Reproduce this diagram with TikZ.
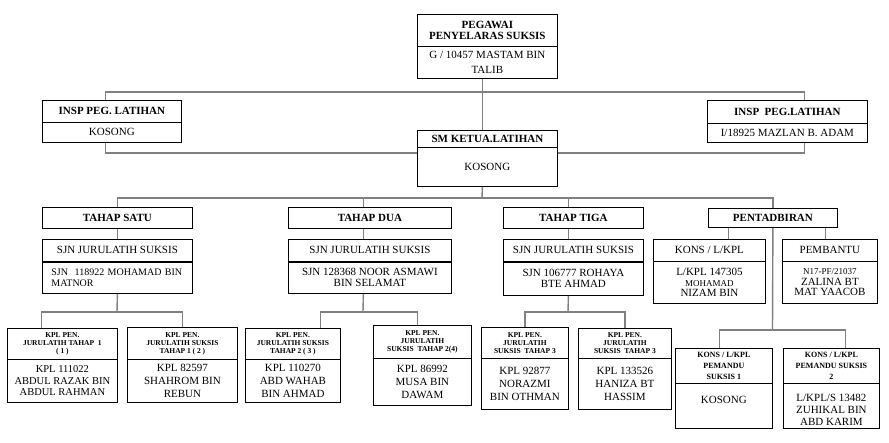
\documentclass[tikz,border=0pt]{standalone}
\usepackage{fontspec}
\setmainfont{Liberation Serif}
\usepackage{tikz}
\definecolor{lnkgray}{RGB}{128,128,128}

\begin{document}
\begin{tikzpicture}[x=1pt,y=-1pt,
	orgbox/.style={draw,line width=0.8pt,inner sep=0pt,anchor=north west,align=center},
	hd/.style={orgbox,font=\fontsize{11}{11.5}\selectfont\bfseries},
	bd/.style={orgbox,font=\fontsize{11}{13}\selectfont},
	sm/.style={orgbox,font=\fontsize{7.5}{8}\selectfont\bfseries},
	lnk/.style={draw=lnkgray,line width=1.4pt}]
	\useasboundingbox (0,0) rectangle (889,442);
	
	% top
	\node (toph) [hd,minimum width=140pt,minimum height=32pt] at (417,14) {PEGAWAI\\PENYELARAS SUKSIS};
	\node (topb) [bd,font=\fontsize{11}{15}\selectfont,minimum width=140pt,minimum height=32pt] at (417,46) {G / 10457 MASTAM BIN\\TALIB};
	
	% insp
	\node (inslh) [hd,minimum width=139pt,minimum height=22pt] at (42,100) {INSP PEG. LATIHAN};
	\node (inslb) [bd,minimum width=139pt,minimum height=20pt] at (42,122) {KOSONG};
	\node (insrh) [hd,minimum width=160pt,minimum height=23pt] at (707,100) {INSP\ \ PEG.LATIHAN};
	\node (insrb) [bd,minimum width=160pt,minimum height=19pt] at (707,123) {I/18925 MAZLAN B. ADAM};
	
	% ketua
	\node (ketuah) [hd,minimum width=140pt,minimum height=17pt] at (417,130) {SM KETUA.LATIHAN};
	\node (ketuab) [bd,minimum width=140pt,minimum height=39pt] at (417,147) {KOSONG};
	
	% tahap
	\node (t1) [hd,minimum width=150pt,minimum height=21pt] at (42,207) {TAHAP SATU};
	\node (t2) [hd,minimum width=163pt,minimum height=21pt] at (288,207) {TAHAP DUA};
	\node (t3) [hd,minimum width=140pt,minimum height=21pt] at (503,207) {TAHAP TIGA};
	\node (pent) [hd,minimum width=129pt,minimum height=19pt] at (708,208) {PENTADBIRAN};
	
	% sjn
	\node (sjn1h) [bd,minimum width=150pt,minimum height=22pt] at (42,239) {SJN JURULATIH SUKSIS};
	\node (sjn1b) [bd,font=\fontsize{10}{11}\selectfont,align=left,text width=132pt,minimum width=150pt,minimum height=32pt] at (42,261) {SJN\ \ 118922 MOHAMAD BIN\\MATNOR};
	\node (sjn2h) [bd,minimum width=163pt,minimum height=22pt] at (288,239) {SJN JURULATIH SUKSIS};
	\node (sjn2b) [bd,font=\fontsize{11}{11.5}\selectfont,minimum width=163pt,minimum height=32pt] at (288,261) {SJN 128368 NOOR ASMAWI\\BIN SELAMAT};
	\node (sjn3h) [bd,minimum width=140pt,minimum height=22pt] at (503,239) {SJN JURULATIH SUKSIS};
	\node (sjn3b) [bd,font=\fontsize{11}{11.5}\selectfont,minimum width=140pt,minimum height=34pt] at (503,261) {SJN 106777 ROHAYA\\BTE AHMAD};
	\foreach \n in {sjn1h,sjn2h,sjn3h}
	\draw [line width=1.6pt] (\n.south west) -- (\n.south east);
	
	% pentadbiran
	\node (konsh) [bd,minimum width=112pt,minimum height=22pt] at (653,239) {KONS / L/KPL};
	\node (konsb) [bd,font=\fontsize{11}{10.5}\selectfont,minimum width=112pt,minimum height=42pt] at (653,261) {L/KPL 147305\\{\fontsize{9}{10}\selectfont MOHAMAD}\\NIZAM BIN};
	\node (pembh) [bd,minimum width=95pt,minimum height=22pt] at (782,239) {PEMBANTU};
	\node (pembb) [bd,font=\fontsize{11}{10.5}\selectfont,minimum width=95pt,minimum height=42pt] at (782,261) {{\fontsize{9}{10}\selectfont N17-PF/21037}\\ZALINA BT\\MAT YAACOB};
	
	% bottom row
	\node (b1h) [sm,minimum width=110pt,minimum height=31pt] at (7,328) {KPL PEN.\\JURULATIH TAHAP\ \ 1\\( 1 )};
	\node (b1b) [bd,font=\fontsize{10.5}{11.5}\selectfont,minimum width=110pt,minimum height=43pt] at (7,359) {KPL 111022\\ABDUL RAZAK BIN\\ABDUL RAHMAN};
	\node (b2h) [sm,minimum width=110pt,minimum height=32pt] at (127,327) {KPL PEN.\\JURULATIH SUKSIS\\TAHAP 1 ( 2 )};
	\node (b2b) [bd,minimum width=110pt,minimum height=43pt] at (127,359) {KPL 82597\\SHAHROM BIN\\REBUN};
	\node (b3h) [sm,minimum width=95pt,minimum height=31pt] at (245,328) {KPL PEN.\\JURULATIH SUKSIS\\TAHAP 2 ( 3 )};
	\node (b3b) [bd,minimum width=95pt,minimum height=43pt] at (245,359) {KPL 110270\\ABD WAHAB\\BIN AHMAD};
	\node (b4h) [sm,minimum width=98pt,minimum height=33pt] at (373,325) {KPL PEN.\\JURULATIH\\SUKSIS\ \ TAHAP 2(4)};
	\node (b4b) [bd,minimum width=98pt,minimum height=47pt] at (373,358) {KPL 86992\\MUSA BIN\\DAWAM};
	\node (b5h) [sm,minimum width=87pt,minimum height=31pt] at (481,327) {KPL PEN.\\JURULATIH\\SUKSIS\ \ TAHAP 3};
	\node (b5b) [bd,minimum width=87pt,minimum height=51pt] at (481,358) {KPL 92877\\NORAZMI\\BIN OTHMAN};
	\node (b6h) [sm,minimum width=93pt,minimum height=30pt] at (578,328) {KPL PEN.\\JURULATIH\\SUKSIS\ \ TAHAP 3};
	\node (b6b) [bd,minimum width=93pt,minimum height=51pt] at (578,358) {KPL 133526\\HANIZA BT\\HASSIM};
	\node (b7h) [sm,font=\fontsize{8}{11}\selectfont\bfseries,minimum width=97pt,minimum height=35pt] at (675,348) {KONS / L/KPL\\PEMANDU\\SUKSIS 1};
	\node (b7b) [bd,minimum width=97pt,minimum height=45pt] at (675,383) {KOSONG\\\mbox{}};
	\node (b8h) [sm,font=\fontsize{8}{11}\selectfont\bfseries,minimum width=96pt,minimum height=35pt] at (783,348) {KONS / L/KPL\\PEMANDU SUKSIS\\2};
	\node (b8b) [bd,font=\fontsize{11}{12}\selectfont,minimum width=96pt,minimum height=45pt] at (783,383) {\mbox{}\\[4pt]L/KPL/S 13482\\ZUHIKAL BIN\\ABD KARIM};
	
	% connectors
	\coordinate (jtop) at (482,92);
	\coordinate (jmid) at (482,198);
	\coordinate (j1) at (117,312);
	\coordinate (j2) at (363,312);
	\coordinate (j3) at (568,312);
	\coordinate (j4) at (772.5,330);
	
	\draw [lnk] ([xshift=-5pt]topb.south) -- ([xshift=-5pt]ketuah.north);
	\draw [lnk] ([xshift=-6.5pt]inslh.north) |- (jtop) -| ([xshift=17pt]insrh.north);
	\draw [lnk] ([xshift=-6.5pt]inslb.south) |- ([yshift=-6pt]ketuab.north west);
	\draw [lnk] ([xshift=17pt]insrb.south) |- ([yshift=-6pt]ketuab.north east);
	
	\draw [lnk] ([xshift=-5pt]ketuab.south) -- (jmid);
	\draw [lnk] (t1.north) |- (jmid) -| (pent.north);
	\draw [lnk] ([xshift=-6.5pt]t2.north) |- (jmid);
	\draw [lnk] ([xshift=-5pt]t3.north) |- (jmid);
	
	\draw [lnk] (t1.south) -- (sjn1h.north);
	\draw [lnk] ([xshift=-6.5pt]t2.south) -- ([xshift=-6.5pt]sjn2h.north);
	\draw [lnk] ([xshift=-5pt]t3.south) -- ([xshift=-5pt]sjn3h.north);
	
	\draw [lnk] (sjn1b.south) -- (j1);
	\draw [lnk] ([xshift=-21pt]b1h.north) |- (j1) -| (b2h.north);
	\draw [lnk] ([xshift=-6.5pt]sjn2b.south) -- (j2);
	\draw [lnk] ([xshift=27.5pt]b3h.north) |- (j2) -| ([xshift=-5pt]b4h.north);
	\draw [lnk] ([xshift=-5pt]sjn3b.south) -- (j3);
	\draw [lnk] (b5h.north) |- (j3) -| (b6h.north);
	
	\draw [lnk] ([xshift=19pt]konsh.north) -- ([xshift=-44.5pt]pent.south);
	\draw [lnk] ([xshift=-4.5pt]pembh.north) -- ([xshift=52.5pt]pent.south);
	\draw [lnk] (pent.south) -- (j4);
	\draw [lnk] ([xshift=-4.5pt]b7h.north) |- (j4) -| ([xshift=14pt]b8h.north);
\end{tikzpicture}
\end{document}
